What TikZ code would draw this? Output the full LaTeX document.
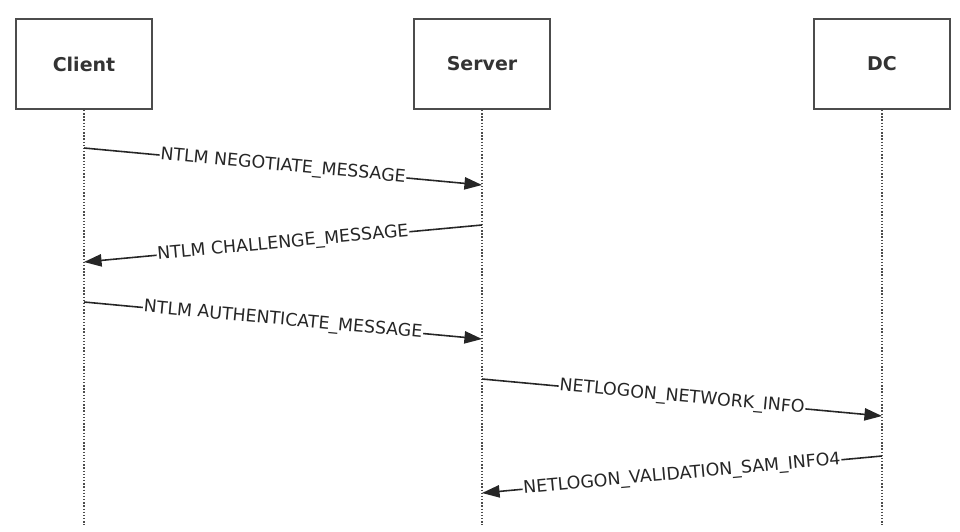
\documentclass[tikz,border=0pt]{standalone}
\usepackage{fontspec}
\setmainfont{DejaVu Sans}
\usetikzlibrary{arrows.meta}

\begin{document}
\begin{tikzpicture}[
        actorNode/.style = {draw=black!70,line width=1.1pt,fill=white,minimum width=2.72cm,minimum height=1.8cm,
            font=\fontsize{10.8}{12}\selectfont\bfseries,text=black!80},
        lifeLine/.style = {black!70,line width=0.8pt,densely dotted},
        msgLine/.style = {black!85,line width=0.9pt,-{Triangle[length=10pt,width=7pt]}},
        msgText/.style = {midway,sloped,fill=white,inner sep=0.5pt,text=black!85,font=\fontsize{9.9}{11}\selectfont}
        ]
        \useasboundingbox (0,0) rectangle (19.2,-10.62);
        % participants
        \node[actorNode] (client) at (1.68,-1.28) {Client};
        \node[actorNode] (server) at (9.64,-1.28) {Server};
        \node[actorNode] (dc) at (17.64,-1.28) {DC};
        % lifelines
        \coordinate (clientEnd) at (1.68,-10.5);
        \coordinate (serverEnd) at (9.64,-10.5);
        \coordinate (dcEnd) at (17.64,-10.5);
        \draw[lifeLine] (client.south) -- (clientEnd);
        \draw[lifeLine] (server.south) -- (serverEnd);
        \draw[lifeLine] (dc.south) -- (dcEnd);
        % message end points
        \coordinate (negA) at (1.68,-2.96);
        \coordinate (negB) at (9.64,-3.70);
        \coordinate (chalA) at (9.64,-4.50);
        \coordinate (chalB) at (1.68,-5.24);
        \coordinate (authA) at (1.68,-6.04);
        \coordinate (authB) at (9.64,-6.78);
        \coordinate (netA) at (9.64,-7.58);
        \coordinate (netB) at (17.64,-8.32);
        \coordinate (valA) at (17.64,-9.12);
        \coordinate (valB) at (9.64,-9.86);
        % messages
        \draw[msgLine] (negA) -- (negB) node[msgText] {NTLM NEGOTIATE\_MESSAGE};
        \draw[msgLine] (chalA) -- (chalB) node[msgText] {NTLM CHALLENGE\_MESSAGE};
        \draw[msgLine] (authA) -- (authB) node[msgText] {NTLM AUTHENTICATE\_MESSAGE};
        \draw[msgLine] (netA) -- (netB) node[msgText] {NETLOGON\_NETWORK\_INFO};
        \draw[msgLine] (valA) -- (valB) node[msgText] {NETLOGON\_VALIDATION\_SAM\_INFO4};
\end{tikzpicture}
\end{document}
